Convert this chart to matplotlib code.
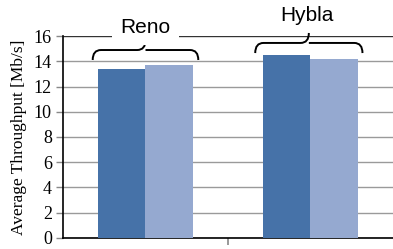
import matplotlib
matplotlib.use("Agg")
import numpy as np
import matplotlib.pyplot as plt
from matplotlib.path import Path
from matplotlib.patches import PathPatch

# data
groups = ["Reno", "Hybla"]
series_a = [13.4, 14.5]
series_b = [13.7, 14.2]
y_ticks = [0, 2, 4, 6, 8, 10, 12, 14, 16]

DARK = "#4672A8"
LIGHT = "#95A9D0"


def addBrace(ax, xc, half, y_end, y_mid, y_peak, rx=0.05):
    verts = [
        (xc - half, y_end),
        (xc - half, y_mid), (xc - half + rx, y_mid),
        (xc - rx, y_mid),
        (xc, y_mid), (xc, y_peak),
        (xc, y_mid), (xc + rx, y_mid),
        (xc + half - rx, y_mid),
        (xc + half, y_mid), (xc + half, y_end),
    ]
    codes = [Path.MOVETO,
             Path.CURVE3, Path.CURVE3,
             Path.LINETO,
             Path.CURVE3, Path.CURVE3,
             Path.MOVETO, Path.CURVE3,
             Path.LINETO,
             Path.CURVE3, Path.CURVE3]
    patch = PathPatch(Path(verts, codes), facecolor="none", edgecolor="black",
                      lw=1.4, clip_on=False, zorder=5)
    ax.add_patch(patch)


fig = plt.figure(figsize=(3.93, 2.49), dpi=100)
ax = fig.add_axes([0.1603, 0.0442, 0.8397, 0.8112])

x = np.arange(len(groups))
width = 0.285
ax.bar(x - width / 2, series_a, width, color=DARK, zorder=3)
ax.bar(x + width / 2, series_b, width, color=LIGHT, zorder=3)

ax.set_xlim(-0.5, 1.5)
ax.set_ylim(0, 16)
ax.set_yticks(y_ticks)
ax.set_yticklabels([str(t) for t in y_ticks], family="Liberation Serif", fontsize=13)
ax.set_xticks([0.5])
ax.set_xticklabels([])
ax.tick_params(axis="x", length=5, color="#888888", width=1.2)
ax.tick_params(axis="y", length=5, color="#888888", width=1, pad=3)

for t in y_ticks[:-1]:
    ax.axhline(t, color="#9a9a9a", lw=1, zorder=1)
ax.axhline(16, color="#333333", lw=1, zorder=1)

for s in ["top", "right"]:
    ax.spines[s].set_visible(False)
ax.spines["left"].set_linewidth(1.2)
ax.spines["bottom"].set_linewidth(1.2)

ax.set_ylabel("Average Throughput [Mb/s]", family="Liberation Serif", fontsize=12.5, labelpad=5)

# group braces and labels
addBrace(ax, 0.0, 0.32, 14.10, 14.89, 15.68)
addBrace(ax, 0.99, 0.325, 14.65, 15.45, 16.24)
ax.text(0.0, 16.71, groups[0], ha="center", va="center", family="Liberation Sans",
        fontsize=15, zorder=6, bbox=dict(facecolor="white", edgecolor="none", pad=6))
ax.text(0.98, 17.66, groups[1], ha="center", va="center", family="Liberation Sans",
        fontsize=15, zorder=6)

fig.savefig("out.png", dpi=100)
